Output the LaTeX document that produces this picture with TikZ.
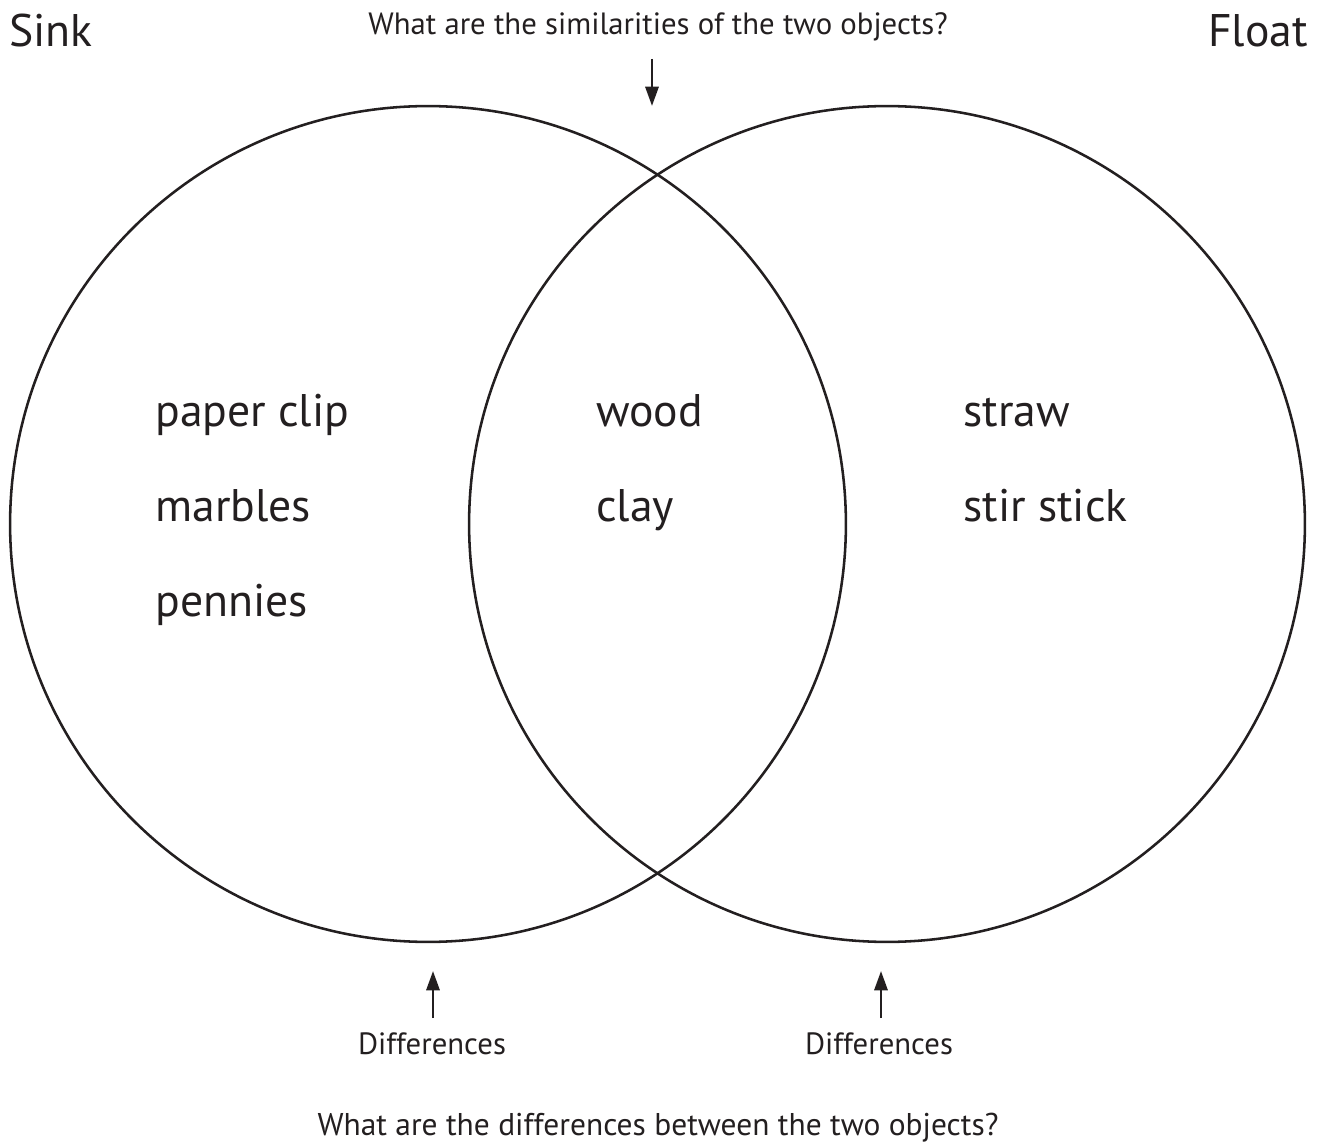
\documentclass[tikz,border=0pt]{standalone}
\usepackage{fontspec}
\setmainfont{PT Sans}
\usetikzlibrary{arrows.meta}
\definecolor{ink}{HTML}{231F20}

\begin{document}
\begin{tikzpicture}[x=0.02cm, y=-0.02cm, ink,
      ring/.style={draw=ink, circle, line width=1.45pt, minimum size=16.72cm, inner sep=0pt},
      item/.style={anchor=base west, inner sep=0pt, font=\fontsize{26}{30}\selectfont},
      side/.style={anchor=base, inner sep=0pt, font=\fontsize{26}{30}\selectfont},
      note/.style={anchor=base, inner sep=0pt, font=\fontsize{17.5}{21}\selectfont},
      arr/.style={-{Triangle[length=11pt, width=7.5pt]}, line width=1.5pt}
    ]
    \useasboundingbox (0,0) rectangle (1320,1145);

    \node[ring] (sinkring)  at (428, 524) {};
    \node[ring] (floatring) at (887, 524) {};

    \node[side] (sink)  at (51, 47)   {Sink};
    \node[side] (float) at (1258, 47) {Float};

    \node[note] (simq) at (658, 35) {What are the similarities of the two objects?};
    \node[note, font=\fontsize{17.9}{22}\selectfont] (difq) at (658, 1135) {What are the differences between the two objects?};
    \node[note] (difL) at (432, 1054) {Differences};
    \node[note] (difR) at (879, 1054) {Differences};

    \node[item] (clip)    at (155, 427) {paper clip};
    \node[item] (marbles) at (155, 522) {marbles};
    \node[item] (pennies) at (155, 617) {pennies};
    \node[item] (wood)    at (596, 427) {wood};
    \node[item] (clay)    at (596, 522) {clay};
    \node[item] (straw)   at (963, 427) {straw};
    \node[item] (stir)    at (963, 522) {stir stick};

    \coordinate (simtail)  at (652, 59);
    \coordinate (simtip)   at (652, 106);
    \coordinate (difLtail) at (433, 1018);
    \coordinate (difLtip)  at (433, 971);
    \coordinate (difRtail) at (881, 1018);
    \coordinate (difRtip)  at (881, 971);

    \draw[arr] (simtail) -- (simtip);
    \draw[arr] (difLtail) -- (difLtip);
    \draw[arr] (difRtail) -- (difRtip);
  \end{tikzpicture}
\end{document}
